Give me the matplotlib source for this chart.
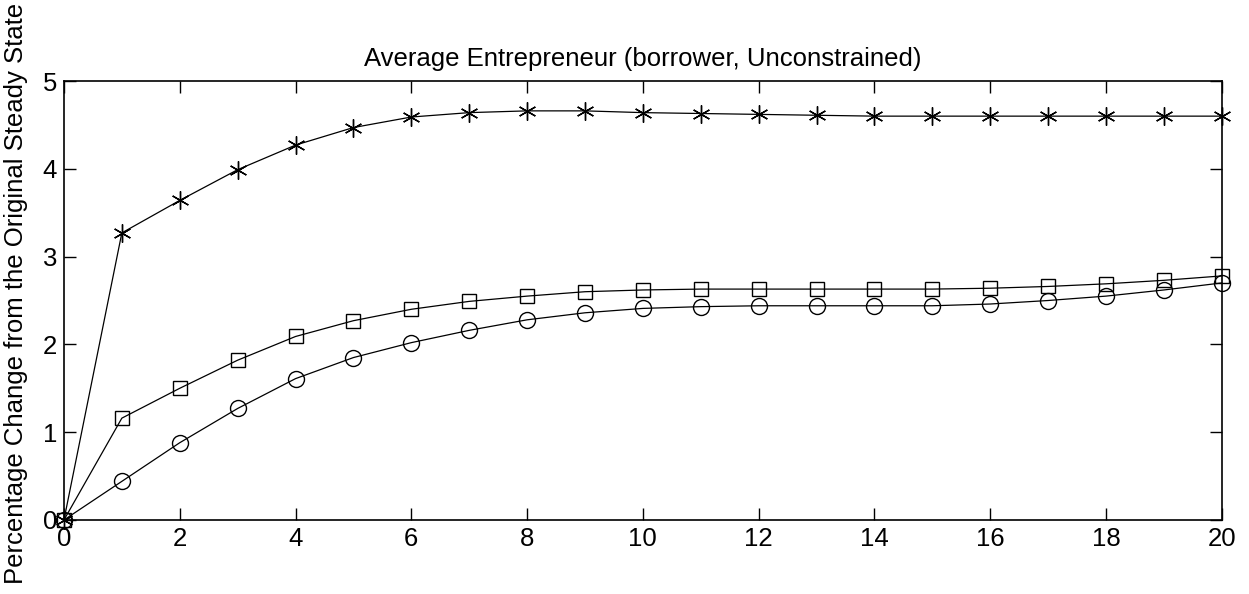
import matplotlib

matplotlib.use("Agg")
import matplotlib.pyplot as plt

plt.rcParams["font.family"] = ["Liberation Sans", "DejaVu Sans"]

periods = list(range(21))
star_series = [0.0, 3.27, 3.64, 3.99, 4.27, 4.47, 4.59, 4.64, 4.66, 4.66, 4.64,
               4.63, 4.62, 4.61, 4.60, 4.60, 4.60, 4.60, 4.60, 4.60, 4.60]
square_series = [0.0, 1.16, 1.50, 1.82, 2.09, 2.27, 2.40, 2.49, 2.55, 2.60, 2.62,
                 2.63, 2.63, 2.63, 2.63, 2.63, 2.64, 2.66, 2.69, 2.73, 2.78]
circle_series = [0.0, 0.44, 0.88, 1.27, 1.61, 1.85, 2.02, 2.16, 2.28, 2.36, 2.41,
                 2.43, 2.44, 2.44, 2.44, 2.44, 2.46, 2.50, 2.55, 2.62, 2.70]
x_ticks = list(range(0, 21, 2))
y_ticks = [0, 1, 2, 3, 4, 5]

fig = plt.figure(figsize=(12.49, 5.94), dpi=100)
ax = fig.add_axes([0.0512, 0.1246, 0.927, 0.739])

line_kw = dict(color="black", linewidth=0.9, markerfacecolor="none",
               markeredgecolor="black", markeredgewidth=1.0, clip_on=False)
ax.plot(periods, star_series, marker=(6, 2, 0), markersize=13, **line_kw)
ax.plot(periods, square_series, marker="s", markersize=9.5, **line_kw)
ax.plot(periods, circle_series, marker="o", markersize=11.5, **line_kw)

ax.set_xlim(0, 20)
ax.set_ylim(0, 5)
ax.set_xticks(x_ticks)
ax.set_yticks(y_ticks)
ax.tick_params(direction="in", length=8.5, width=1, top=True, right=True,
               labelsize=18.5, pad=5)
for spine in ax.spines.values():
    spine.set_linewidth(1.2)

ax.set_title("Average Entrepreneur (borrower, Unconstrained)", fontsize=18.5, pad=11)
ax.set_ylabel("Percentage Change from the Original Steady State", fontsize=18.5)
ax.yaxis.set_label_coords(-0.031, 0.517)

fig.savefig("out.png", dpi=100)
plt.close(fig)
